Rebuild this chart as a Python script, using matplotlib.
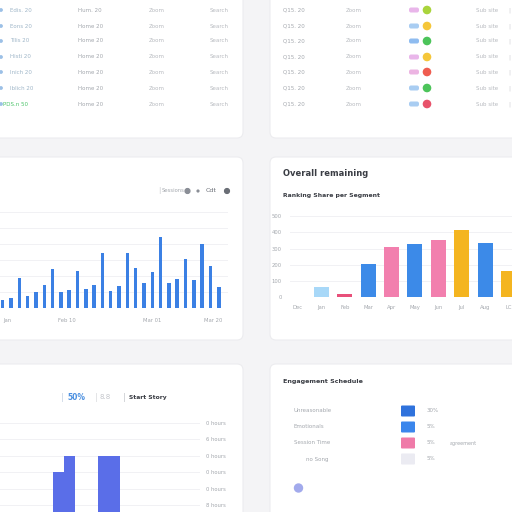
import matplotlib.pyplot as plt
from matplotlib.patches import FancyBboxPatch, Circle

# ---- data ----
# top-left table
tl_col1 = ["Edis. 20", "Eons 20", "Tilis 20", "Histi 20", "Inich 20", "Iblich 20", "PDS.n 50"]
tl_col2 = ["Hum. 20", "Home 20", "Home 20", "Home 20", "Home 20", "Home 20", "Home 20"]
tl_col3 = ["Zoom"] * 7
tl_col4 = ["Search"] * 7

# top-right table
tr_col1 = ["Q15. 20", "Q15. 20", "Q15. 20", "Q15. 20", "Q15. 20", "Q15. 20", "Q15. 20"]
tr_col2 = ["Zoom"] * 7
tr_pill = ["#e9b6ea", "#a9cdf2", "#8fbcf0", "#e9b6ea", "#ecb4e2", "#a9cdf2", "#a9cdf2"]
tr_status = ["#a9d43c", "#f5c63a", "#4cc45a", "#f5c63a", "#ef5d50", "#4cc45a", "#e8536b"]
tr_col4 = ["Sub site"] * 7

# sessions bar chart
sess_values = [8, 10, 30, 12, 16, 23, 39, 16, 18, 37, 19, 23, 55, 17, 22, 55,
               40, 25, 36, 71, 25, 29, 49, 28, 64, 42, 21]
sess_tick_pos = [0.5, 7.7, 18, 25.3]
sess_tick_lab = ["Jan", "Feb 10", "Mar 01", "Mar 20"]

# overall remaining bar chart
rem_cats = ["Dec", "Jan", "Feb", "Mar", "Apr", "May", "Jun", "Jul", "Aug", "LC"]
rem_values = [0, 62, 17, 202, 309, 327, 352, 414, 333, 160]
rem_colors = ["#a8d8f8", "#a8d8f8", "#e8507a", "#3c8ae8", "#f27fae", "#3c8ae8",
              "#f27fae", "#f4b520", "#3c8ae8", "#f4b520"]
rem_ticks = [0, 100, 200, 300, 400, 500]

# hours bar chart
hrs_values = [15, 20, 0, 0, 20, 20]
hrs_ticks = [5, 10, 15, 20, 25, 30]
hrs_labels = ["8 hours", "0 hours", "0 hours", "0 hours", "6 hours", "0 hours"]

# engagement schedule
eng_labels = ["Unreasonable", "Emotionals", "Session Time", "no Song"]
eng_colors = ["#2f72dc", "#3b86ec", "#ef7aa8", "#ebebf2"]
eng_pct = ["30%", "5%", "5%", "5%"]

BG = "#f4f4f6"
GRAY = "#a4a8ae"
DARK = "#3a3d44"

fig = plt.figure(figsize=(5.12, 5.12), dpi=100, facecolor=BG)
bg = fig.add_axes([0, 0, 1, 1])
bg.set_xlim(0, 512)
bg.set_ylim(512, 0)
bg.axis("off")


def card(x0, y0, x1, y1):
    bg.add_patch(FancyBboxPatch((x0, y0), x1 - x0, y1 - y0,
                                boxstyle="round,pad=0,rounding_size=6",
                                fc="white", ec="#ececef", lw=0.8))


def ax_px(x0, y0, x1, y1):
    a = fig.add_axes([x0 / 512, 1 - y1 / 512, (x1 - x0) / 512, (y1 - y0) / 512])
    a.patch.set_alpha(0)
    for s in a.spines.values():
        s.set_visible(False)
    return a


card(-8, -8, 243, 138)
card(270, -8, 520, 138)
card(-8, 157, 243, 340)
card(270, 157, 520, 340)
card(-8, 364, 243, 520)
card(270, 364, 520, 520)

# ---- top tables ----
row_y = [10, 26, 41, 57, 72, 88, 104]
for i, y in enumerate(row_y):
    c1 = "#4cc46a" if i == len(row_y) - 1 else "#9fb6c8"
    bg.add_patch(Circle((1, y), 1.2, color="#9cc0e6"))
    bg.text(10 if i < 6 else 3, y, tl_col1[i], fontsize=4, color=c1, va="center")
    bg.text(78, y, tl_col2[i], fontsize=4, color=GRAY, va="center")
    bg.text(149, y, tl_col3[i], fontsize=4, color="#b8bbc0", va="center")
    bg.text(210, y, tl_col4[i], fontsize=4, color="#b8bbc0", va="center")

    bg.text(283, y, tr_col1[i], fontsize=4, color=GRAY, va="center")
    bg.text(346, y, tr_col2[i], fontsize=4, color="#b8bbc0", va="center")
    bg.add_patch(FancyBboxPatch((409, y - 2.5), 10, 5,
                                boxstyle="round,pad=0,rounding_size=2",
                                fc=tr_pill[i], ec="none"))
    bg.add_patch(Circle((427, y), 3.6, color=tr_status[i]))
    bg.text(476, y, tr_col4[i], fontsize=4, color="#b8bbc0", va="center")
    bg.text(508, y, "|", fontsize=4, color="#c8cacf", va="center")

# ---- sessions chart ----
bg.text(158, 191, "|", fontsize=5, color="#c8cacf", va="center")
bg.text(162, 191, "Sessions", fontsize=3.8, color=GRAY, va="center")
bg.add_patch(Circle((187.5, 191), 2.4, color="#8a8e96"))
bg.add_patch(Circle((198, 191), 0.9, color="#8a8e96"))
bg.text(206, 191, "Cdt", fontsize=4.5, color="#6a6e76", va="center")
bg.add_patch(Circle((227, 191), 2.4, color="#6a6e76"))

ax1 = ax_px(0, 200, 228, 308)
ax1.bar(range(len(sess_values)), sess_values, width=0.42, color="#3b80e4", zorder=2)
ax1.set_xlim(-0.325, 27.11)
ax1.set_ylim(0, 108)
ax1.set_yticks(range(16, 108, 16))
ax1.yaxis.grid(True, color="#f1f1f4", lw=0.7, zorder=0)
ax1.tick_params(axis="y", length=0, labelleft=False)
ax1.set_xticks(sess_tick_pos)
ax1.set_xticklabels(sess_tick_lab, fontsize=3.8, color=GRAY)
ax1.tick_params(axis="x", length=0, pad=7)

# ---- overall remaining chart ----
bg.text(283, 174, "Overall remaining", fontsize=6, fontweight="bold", color=DARK, va="center")
bg.text(283, 196, "Ranking Share per Segment", fontsize=4.4, fontweight="bold", color=DARK, va="center")

ax2 = ax_px(290, 213, 512, 297)
ax2.bar(range(len(rem_values)), rem_values, width=0.64, color=rem_colors, zorder=2)
ax2.set_xlim(-0.34, 9.15)
ax2.set_ylim(0, 520)
ax2.set_yticks(rem_ticks)
ax2.set_yticklabels([str(v) for v in rem_ticks], fontsize=3.8, color=GRAY)
ax2.yaxis.grid(True, color="#f1f1f4", lw=0.7, zorder=0)
ax2.set_xticks(range(len(rem_cats)))
ax2.set_xticklabels(rem_cats, fontsize=3.8, color=GRAY)
ax2.tick_params(length=0, pad=6)

# ---- hours chart ----
bg.text(61, 397, "|", fontsize=6, color="#c8d4e4", va="center")
bg.text(67, 397, "50%", fontsize=5.5, fontweight="bold", color="#4a8fe0", va="center")
bg.text(95, 397, "|", fontsize=6, color="#dcdde0", va="center")
bg.text(100, 397, "8.8", fontsize=5, color="#c4c6cb", va="center")
bg.text(123, 397, "|", fontsize=6, color="#c8cacf", va="center")
bg.text(129, 397, "Start Story", fontsize=4.3, fontweight="bold", color=DARK, va="center")

ax3 = ax_px(0, 416, 200, 522)
ax3.bar(range(len(hrs_values)), hrs_values, width=1.0, color="#5a6ee8", zorder=2)
ax3.set_xlim(-5.29, 12.73)
ax3.set_ylim(0, 32)
ax3.set_yticks(hrs_ticks)
ax3.set_yticklabels(hrs_labels, fontsize=3.8, color=GRAY)
ax3.yaxis.tick_right()
ax3.yaxis.grid(True, color="#f1f1f4", lw=0.7, zorder=0)
ax3.tick_params(length=0, pad=4)
ax3.set_xticks([])

# ---- engagement schedule ----
bg.text(283, 382, "Engagement Schedule", fontsize=4.6, fontweight="bold", color=DARK, va="center")
eng_y = [411, 427, 443, 459]
for i, y in enumerate(eng_y):
    bg.text(294 if i < 3 else 306, y, eng_labels[i], fontsize=4, color=GRAY, va="center")
    bg.add_patch(FancyBboxPatch((401, y - 5.5), 14, 11,
                                boxstyle="round,pad=0,rounding_size=1",
                                fc=eng_colors[i], ec="none"))
    bg.text(427, y, eng_pct[i], fontsize=4, color=GRAY, va="center")
bg.text(450, 443, "agreement", fontsize=3.5, color=GRAY, va="center")
bg.add_patch(Circle((298.5, 488), 4, color="#a2aaec"))

fig.savefig("out.png", dpi=100, facecolor=BG)
